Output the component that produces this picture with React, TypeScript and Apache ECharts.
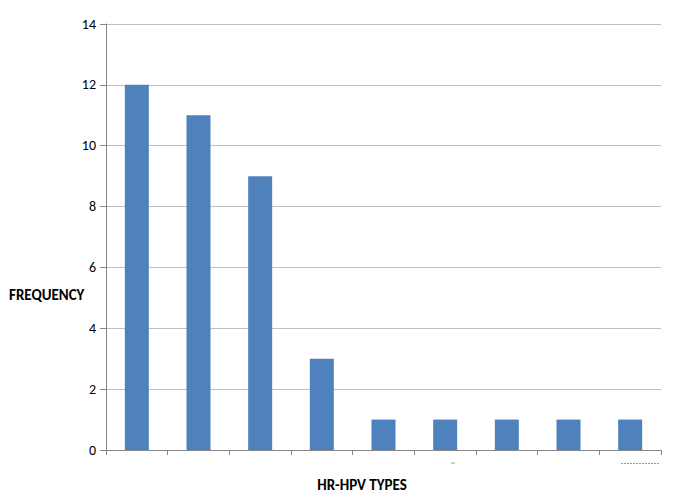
import React, { useEffect, useRef } from "react";
import * as echarts from "echarts";

const categories = ["Type 1", "Type 2", "Type 3", "Type 4", "Type 5", "Type 6", "Type 7", "Type 8", "Type 9"];
const frequency = [12, 11, 9, 3, 1, 1, 1, 1, 1];
const yTicks = { min: 0, max: 14, interval: 2 };
const yName = "FREQUENCY";
const xName = "HR-HPV TYPES";

export default function App() {
  const ref = useRef<HTMLDivElement>(null);
  useEffect(() => {
    if (!ref.current) return;
    const chart = echarts.init(ref.current, null, { renderer: "svg" });
    const font = "Carlito, Lato, 'Open Sans', sans-serif";
    chart.setOption({
      animation: false,
      grid: { left: 106, right: 14, top: 24, bottom: 52, containLabel: false, outerBoundsMode: "none" },
      xAxis: {
        type: "category",
        data: categories,
        axisLine: { show: true, lineStyle: { color: "#868686", width: 1 } },
        axisTick: { show: true, length: 5, interval: 0, lineStyle: { color: "#868686" } },
        axisLabel: { show: false },
        splitLine: { show: false },
      },
      yAxis: {
        type: "value",
        min: yTicks.min,
        max: yTicks.max,
        interval: yTicks.interval,
        axisLine: { show: true, lineStyle: { color: "#868686", width: 1 } },
        axisTick: { show: true, length: 6, lineStyle: { color: "#868686" } },
        axisLabel: { color: "#000", fontSize: 14, fontFamily: font, margin: 10 },
        splitLine: { show: true, lineStyle: { color: "#bfbfbf", width: 1 } },
      },
      series: [
        {
          type: "bar",
          data: frequency,
          barWidth: 24,
          itemStyle: { color: "#4f81bd" },
        },
      ],
      graphic: [
        {
          type: "text",
          x: 9,
          y: 295,
          style: { text: yName, fill: "#000", font: `bold 15px ${font}`, verticalAlign: "middle" },
        },
        {
          type: "text",
          x: 362,
          y: 485,
          style: { text: xName, fill: "#000", font: `bold 15px ${font}`, align: "center", verticalAlign: "middle" },
        },
        {
          type: "line",
          shape: { x1: 451, y1: 463, x2: 455, y2: 463 },
          style: { stroke: "#999", lineWidth: 1 },
        },
        {
          type: "line",
          shape: { x1: 621, y1: 463.5, x2: 660, y2: 463.5 },
          style: { stroke: "#999", lineWidth: 1, lineDash: [2, 1] },
        },
      ],
    });
    return () => chart.dispose();
  }, []);
  return <div ref={ref} style={{ width: 675, height: 502, position: "absolute", left: 0, top: 0 }} />;
}
